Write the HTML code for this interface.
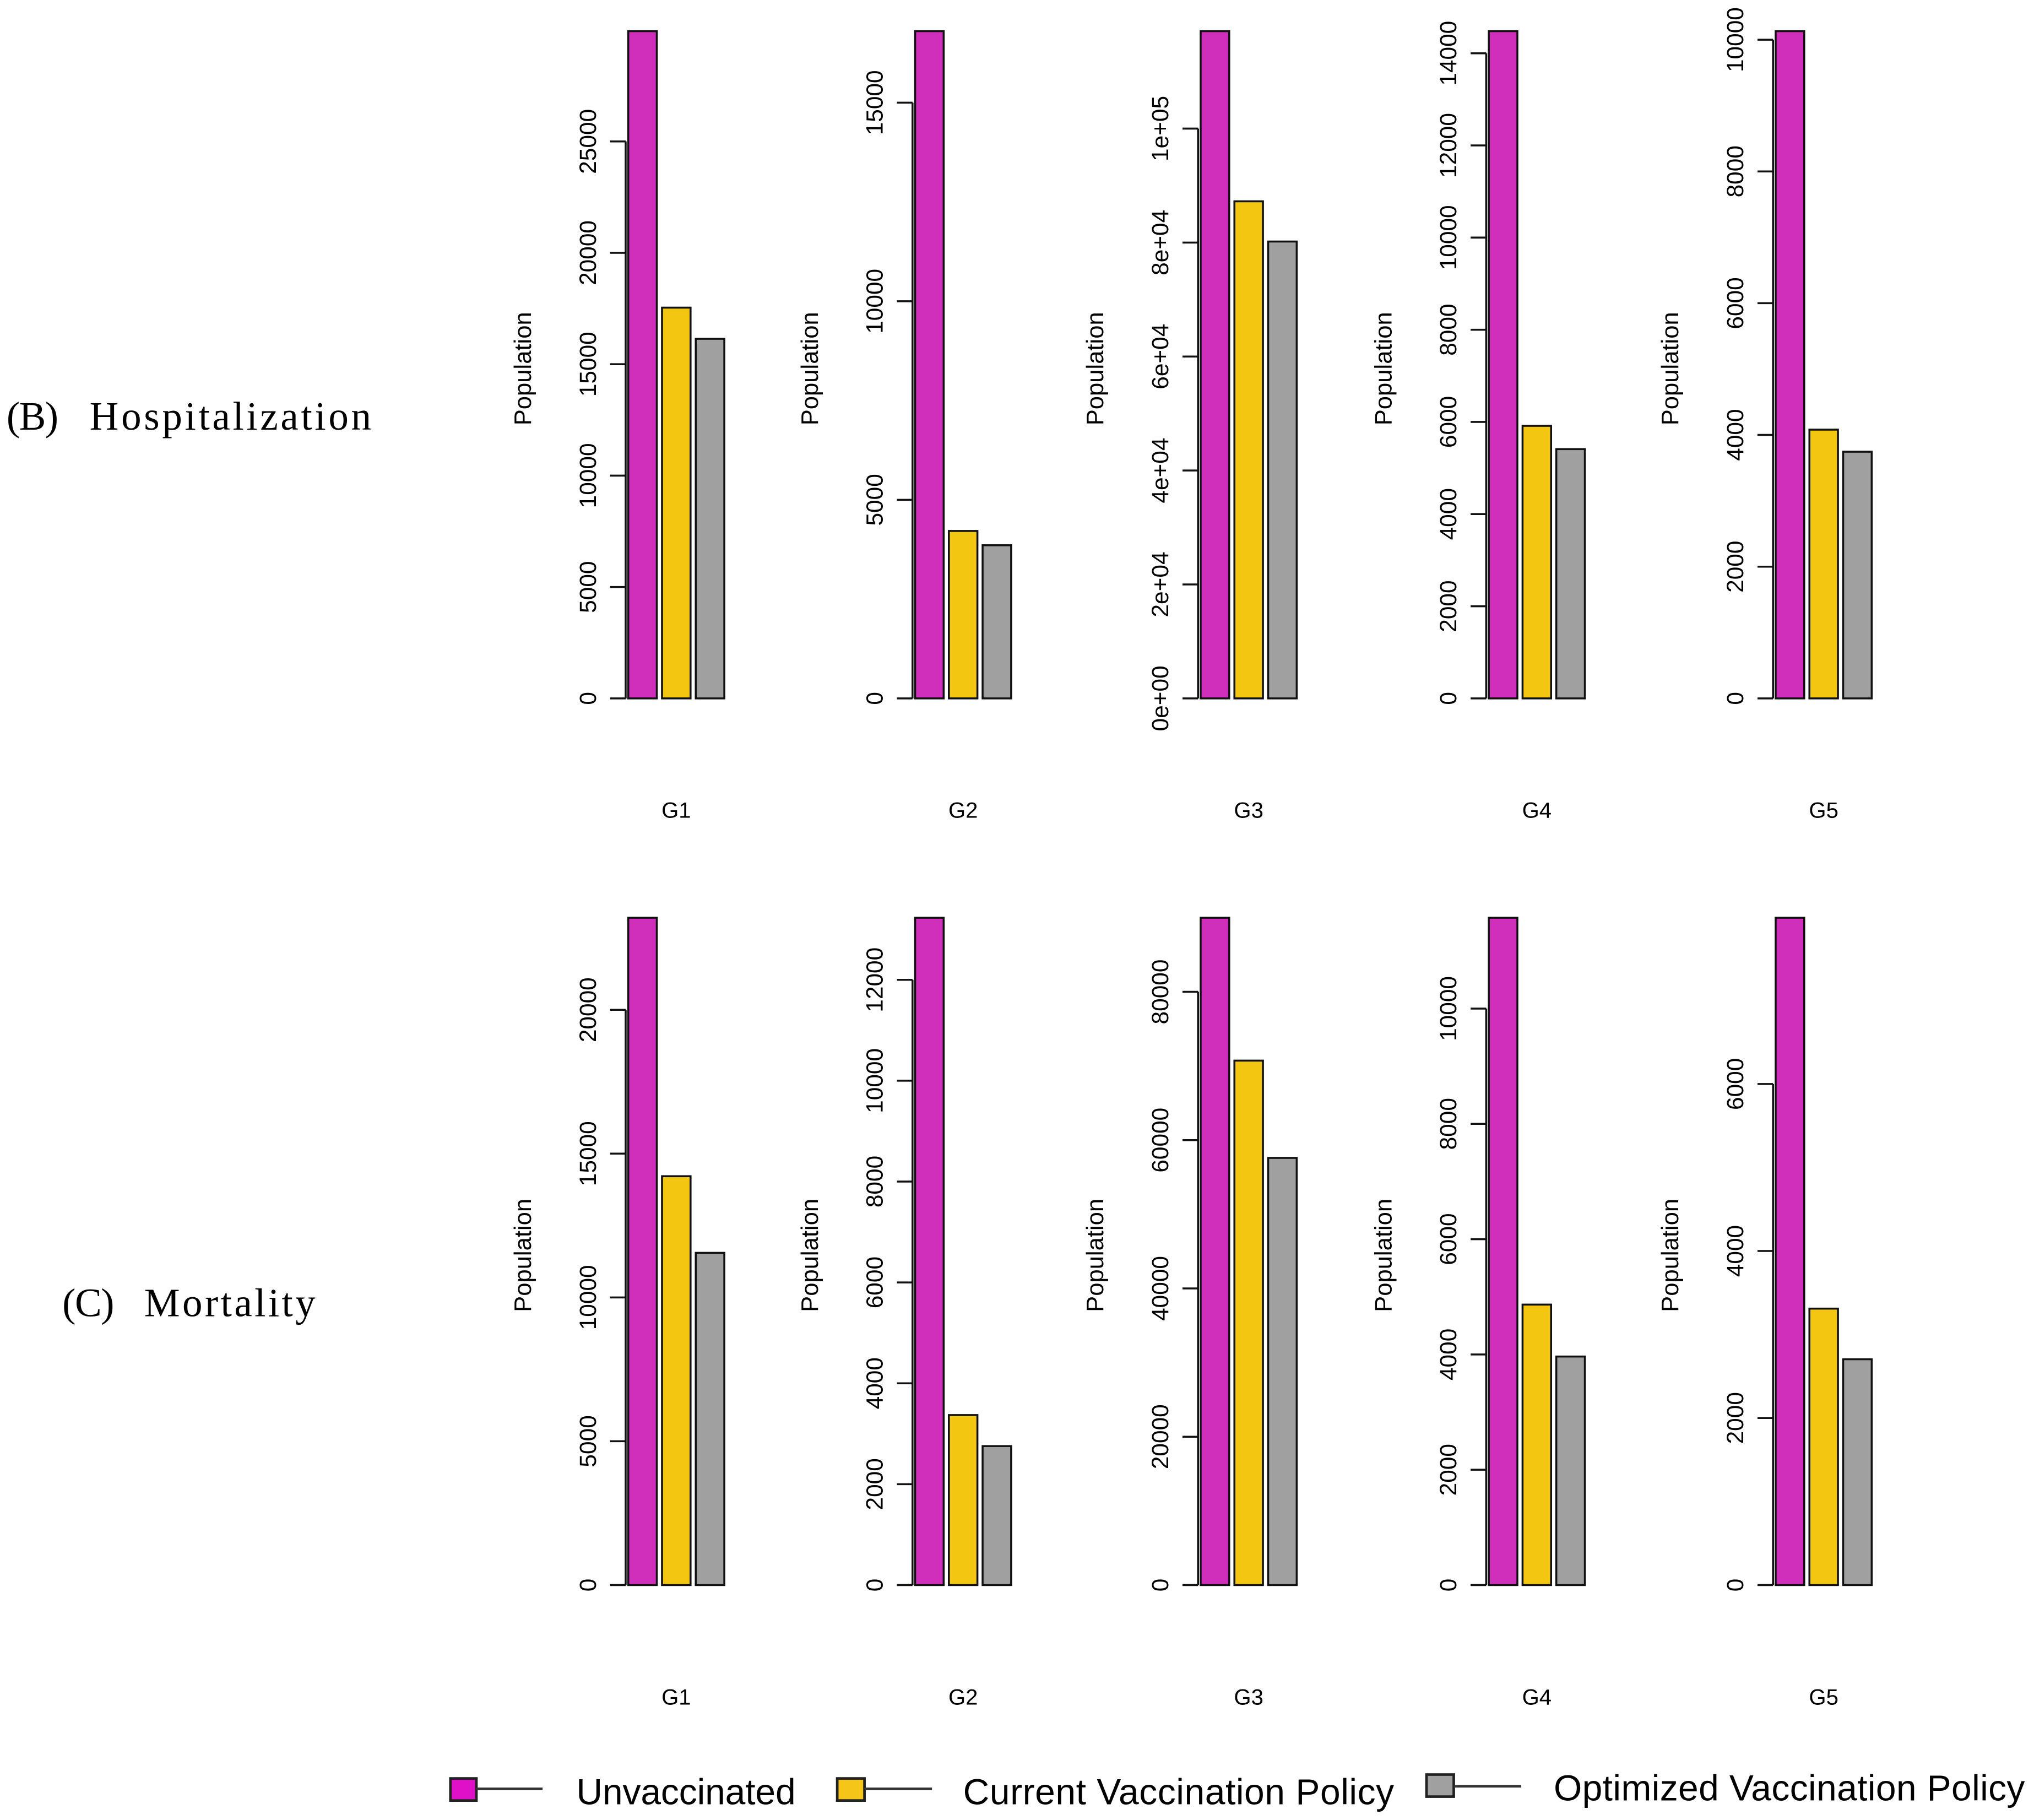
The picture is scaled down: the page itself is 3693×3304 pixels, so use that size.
<!DOCTYPE html>
<html><head><meta charset="utf-8"><style>html,body{margin:0;padding:0;background:#fff}svg{display:block}</style></head>
<body>
<svg id="chart" width="3693" height="3304" viewBox="0 0 1567 1402" xmlns="http://www.w3.org/2000/svg" font-family="Liberation Sans, Arial, sans-serif">
<g font-family="Liberation Serif, serif" font-size="31"><text x="5" y="331" textLength="40">(B)</text><text x="69" y="331" textLength="217">Hospitalization</text></g>
<g font-family="Liberation Serif, serif" font-size="31"><text x="48" y="1014" textLength="40">(C)</text><text x="111" y="1014" textLength="132">Mortality</text></g>
<g id="legend">
<g><rect x="347" y="1370" width="20" height="17" fill="#e010c8" stroke="#222" stroke-width="2"/><line x1="367" y1="1378" x2="418" y2="1378" stroke="#333" stroke-width="2"/><text x="444" y="1390" font-size="28" textLength="169">Unvaccinated</text></g>
<g><rect x="645" y="1370" width="21" height="17" fill="#f5c518" stroke="#222" stroke-width="2"/><line x1="666" y1="1378" x2="718" y2="1378" stroke="#333" stroke-width="2"/><text x="742" y="1390" font-size="28" textLength="332">Current Vaccination Policy</text></g>
<g><rect x="1099" y="1367" width="21" height="17" fill="#a0a0a0" stroke="#222" stroke-width="2"/><line x1="1120" y1="1376" x2="1172" y2="1376" stroke="#333" stroke-width="2"/><text x="1197" y="1387" font-size="28" textLength="363">Optimized Vaccination Policy</text></g>
</g>
</svg>
<script>
const groups = ["G1","G2","G3","G4","G5"];
const series = ["Unvaccinated","Current Vaccination Policy","Optimized Vaccination Policy"];
const hospUnvacc = [29950, 16800, 117100, 14480, 10130];
const hospCurrent = [17540, 4216, 87240, 5915, 4080];
const hospOptimized = [16140, 3856, 80180, 5410, 3745];
const mortUnvacc = [23200, 13230, 89980, 11575, 7990];
const mortCurrent = [14215, 3370, 70720, 4865, 3310];
const mortOptimized = [11550, 2755, 57600, 3964, 2704];
const hospTicks = [[0,5000,10000,15000,20000,25000],[0,5000,10000,15000],[0,20000,40000,60000,80000,100000],[0,2000,4000,6000,8000,10000,12000,14000],[0,2000,4000,6000,8000,10000]];
const hospTickLabels = [["0","5000","10000","15000","20000","25000"],["0","5000","10000","15000"],["0e+00","2e+04","4e+04","6e+04","8e+04","1e+05"],["0","2000","4000","6000","8000","10000","12000","14000"],["0","2000","4000","6000","8000","10000"]];
const mortTicks = [[0,5000,10000,15000,20000],[0,2000,4000,6000,8000,10000,12000],[0,20000,40000,60000,80000],[0,2000,4000,6000,8000,10000],[0,2000,4000,6000]];
const mortTickLabels = [["0","5000","10000","15000","20000"],["0","2000","4000","6000","8000","10000","12000"],["0","20000","40000","60000","80000"],["0","2000","4000","6000","8000","10000"],["0","2000","4000","6000"]];
const colors = ["#cf2fbb","#f3c611","#a0a0a0"];
const NS = "http://www.w3.org/2000/svg";
const svg = document.getElementById("chart");
const axisX = [482, 703, 923, 1145, 1366];
function mk(tag, attrs, parent){const e=document.createElementNS(NS,tag);for(const k in attrs)e.setAttribute(k,attrs[k]);parent.appendChild(e);return e;}
function drawRow(rowName, top, base, vals, ticks, tickLabels){
  for(let g=0; g<groups.length; g++){
    const maxV = Math.max(vals[0][g], vals[1][g], vals[2][g]);
    const y = v => base - v / maxV * (base - top);
    const ax = axisX[g];
    const panel = mk("g", {}, svg);
    
    
    const t = ticks[g];
    const axis = mk("line", {x1:ax, x2:ax, y1:y(t[0]), y2:y(t[t.length-1]), stroke:"#111", "stroke-width":1.5}, panel);
    
    
    for(let i=0;i<t.length;i++){
      const ty = y(t[i]);
      const tk = mk("line", {x1:ax-12, x2:ax, y1:ty, y2:ty, stroke:"#111", "stroke-width":1.5}, panel);
      
      
      const lb = mk("text", {x:0, y:0, "font-size":18, "text-anchor":"middle", transform:`translate(${ax-23},${ty}) rotate(-90)`}, panel);
      lb.textContent = tickLabels[g][i];
      
      
    }
    const yt = mk("text", {x:0, y:0, "font-size":18.5, "text-anchor":"middle", transform:`translate(${ax-73},${(top+base)/2 + 3}) rotate(-90)`}, panel);
    yt.textContent = "Population";
    
    
    for(let s=0;s<3;s++){
      const x0 = ax + 2 + s*26;
      const v = vals[s][g];
      const r = mk("rect", {x:x0, y:y(v), width:22, height:base - y(v), fill:colors[s], stroke:"#111", "stroke-width":1.5}, panel);
      
      
    }
    const gl = mk("text", {x:ax+39, y:base+92, "font-size":17, "text-anchor":"middle"}, panel);
    gl.textContent = groups[g];
    
    
  }
}
drawRow("hospitalization", 24, 538, [hospUnvacc, hospCurrent, hospOptimized], hospTicks, hospTickLabels);
drawRow("mortality", 707, 1221, [mortUnvacc, mortCurrent, mortOptimized], mortTicks, mortTickLabels);
</script>
</body></html>
